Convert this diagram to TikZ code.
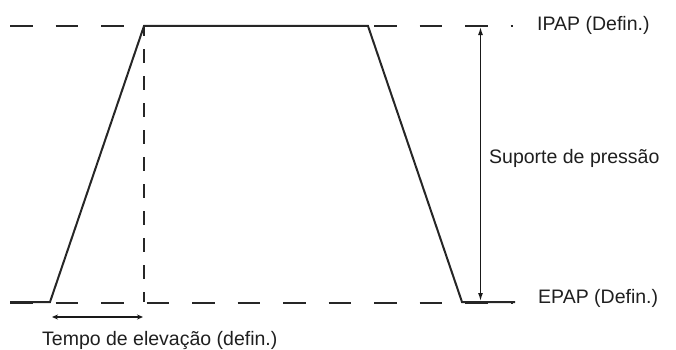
\documentclass[tikz,border=0pt]{standalone}
\usepackage{fontspec}
\setmainfont{Liberation Sans}
\usetikzlibrary{arrows.meta}
\begin{document}
\begin{tikzpicture}[x=1pt,y=1pt,
  lbl/.style={anchor=base west, inner sep=0pt, font=\fontsize{19.5}{23}\selectfont, text=black!88},
  guide/.style={line width=2pt, dash pattern=on 22.5pt off 23pt, draw=black!85},
  vguide/.style={line width=2pt, dash pattern=on 14pt off 13pt, dash phase=4pt, draw=black!85},
  curve/.style={line width=2pt, line join=miter, draw=black!85},
  dimv/.style={line width=1.3pt, draw=black!90, {Latex[length=8pt,width=5pt]}-{Latex[length=8pt,width=5pt]}},
  dimh/.style={line width=1.1pt, draw=black!90, {Stealth[length=6pt,width=5pt]}-{Stealth[length=6pt,width=5pt]}}]
\useasboundingbox (0,0) rectangle (676,349);
% reference coordinates
\coordinate (tl) at (10,323);
\coordinate (tr) at (513,323);
\coordinate (bl) at (10,47);
\coordinate (br) at (513,47);
\coordinate (s0) at (10,47);
\coordinate (s1) at (50,47);
\coordinate (s2) at (144,323);
\coordinate (s3) at (368,323);
\coordinate (s4) at (462,47);
\coordinate (s5) at (515,47);
\coordinate (vt) at (144,323);
\coordinate (vb) at (144,47);
\coordinate (at) at (480.5,323);
\coordinate (ab) at (480.5,47);
\coordinate (hl) at (52,32);
\coordinate (hr) at (143,32);
% guides
\draw[guide] (tl) -- (tr);
\draw[guide] ([yshift=-0.6pt]bl) -- ([yshift=-0.6pt]br);
\draw[vguide] (vt) -- (vb);
% pressure curve
\draw[curve] (s0) -- (s1) -- (s2) -- (s3) -- (s4) -- (s5);
% dimensions
\draw[dimv] ([yshift=-1pt]at) -- ([yshift=1pt]ab);
\draw[dimh] (hl) -- (hr);
% labels
\node[lbl] (ipap) at (537,319) {IPAP (Defin.)};
\node[lbl] (sup) at (489,186) {Suporte de pressão};
\node[lbl] (epap) at (538,46) {EPAP (Defin.)};
\node[lbl] (tempo) at (42,4) {Tempo de elevação (defin.)};
\end{tikzpicture}
\end{document}
